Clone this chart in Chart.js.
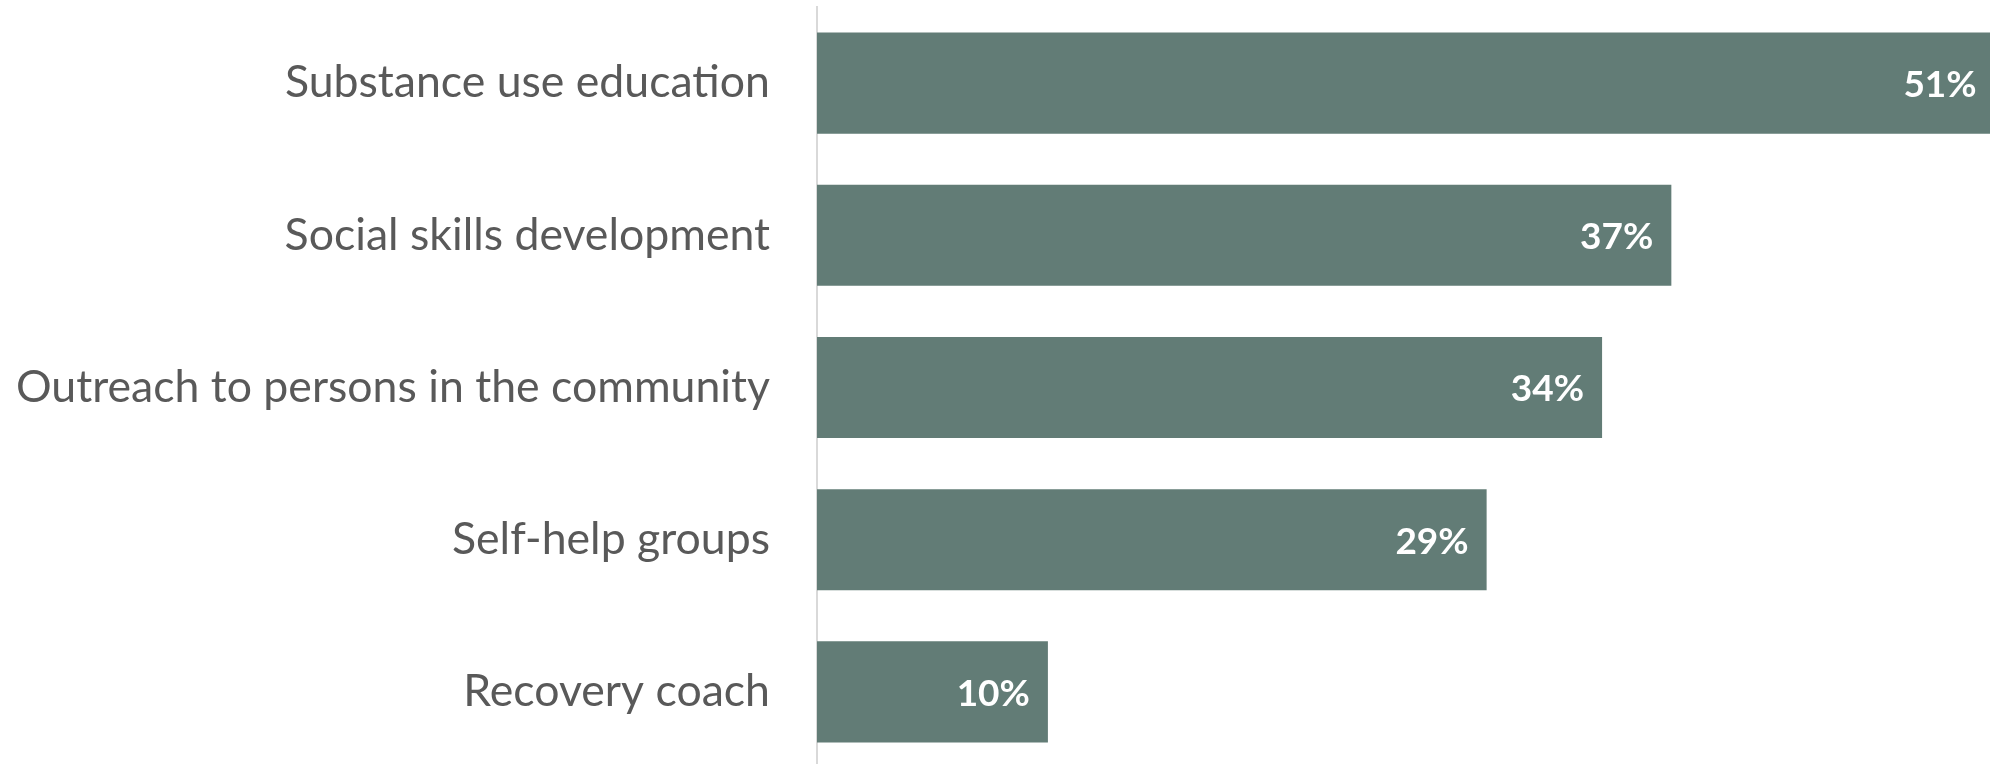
<!DOCTYPE html>
<html>
<head>
<meta charset="utf-8">
<script src="https://cdn.jsdelivr.net/npm/chart.js@4"></script>
<style>
  html, body { margin: 0; padding: 0; background: #fff; overflow: hidden; }
  #wrap { width: 1990px; height: 768px; }
</style>
</head>
<body>
<div id="wrap"><canvas id="chart"></canvas></div>
<script>
const categories = [
  'Substance use education',
  'Social skills development',
  'Outreach to persons in the community',
  'Self-help groups',
  'Recovery coach',
]
const values = [51, 37, 34, 29, 10]

const barColor = '#627c76'
const labelColor = '#595959'

// white bold % inside bar end, like the original
const barLabels = {
  id: 'barLabels',
  afterDatasetsDraw(chart) {
    const { ctx } = chart
    const meta = chart.getDatasetMeta(0)
    ctx.save()
    ctx.fillStyle = '#fff'
    ctx.font = 'bold 37px Lato'
    ctx.textAlign = 'right'
    ctx.textBaseline = 'middle'
    meta.data.forEach((bar, i) => {
      ctx.fillText(values[i] + '%', bar.x - 18, bar.y + 2)
    })
    ctx.restore()
  }
}

new Chart(document.getElementById('chart'), {
  type: 'bar',
  data: {
    labels: categories,
    datasets: [{
      data: values,
      backgroundColor: barColor,
      barPercentage: 0.664,
      categoryPercentage: 1,
    }]
  },
  options: {
    indexAxis: 'y',
    responsive: true,
    maintainAspectRatio: false,
    animation: false,
    layout: { padding: { top: 7, right: 0, bottom: 0, left: 0 } },
    plugins: {
      legend: { display: false },
      tooltip: { enabled: false },
    },
    scales: {
      x: {
        display: false,
        min: 0,
        max: 50.8, // the top bar runs slightly off the edge in the original
      },
      y: {
        grid: { display: false, drawTicks: false },
        border: { color: '#d9d9d9', width: 2 },
        ticks: {
          color: labelColor,
          font: { family: 'Lato', size: 44.6 },
          padding: 47,
        },
        afterFit: (axis) => {
          axis.width = 817
          axis.paddingTop = 0
          axis.paddingBottom = 0
        },
      },
    },
  },
  plugins: [barLabels],
})
</script>
</body>
</html>
